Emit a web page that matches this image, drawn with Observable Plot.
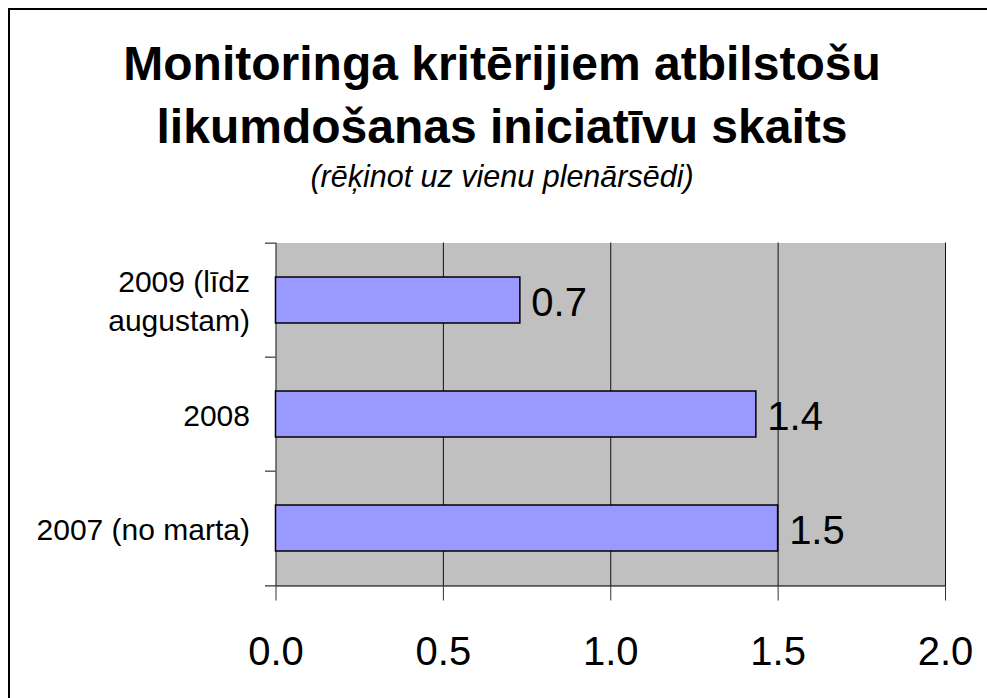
<!DOCTYPE html>
<html>
<head>
<meta charset="utf-8">
<script src="https://cdn.jsdelivr.net/npm/d3@7"></script>
<script src="https://cdn.jsdelivr.net/npm/@observablehq/plot@0.6"></script>
<style>
  html, body { margin: 0; padding: 0; background: #fff; }
  body { width: 987px; height: 698px; overflow: hidden; position: relative; font-family: "Liberation Sans", Arial, sans-serif; }
  #chart { position: absolute; left: 0; top: 0; }
  .t { position: absolute; left: 2px; width: 1000px; text-align: center; color: #000; white-space: nowrap; }
  .t1 { font-size: 48px; line-height: 48px; font-weight: bold; }
  .t2 { font-size: 30.5px; line-height: 30.5px; font-style: italic; }
  #border { position: absolute; left: 8px; top: 8px; width: 1200px; height: 1200px; border: 2px solid #000; pointer-events: none; }
</style>
</head>
<body>
<div id="chart"></div>
<div class="t t1" style="top:39.5px">Monitoringa kritērijiem atbilstošu</div>
<div class="t t1" style="top:102.7px">likumdošanas iniciatīvu skaits</div>
<div class="t t2" style="top:160.5px">(rēķinot uz vienu plenārsēdi)</div>
<div id="border"></div>
<script>
const categories = ["2009 (līdz\naugustam)", "2008", "2007 (no marta)"];
const values = [0.73, 1.435, 1.5];
const xTicks = [0, 0.5, 1.0, 1.5, 2.0];
const gridValues = [0.5, 1.0, 1.5, 2.0];

const data = categories.map((c, i) => ({cat: c, value: values[i]}));

const W = 987, H = 698;
const mL = 275.5, mR = 42, mT = 242.5, mB = 111.5;
const step = (H - mT - mB) / categories.length;
const pxPerUnit = (W - mL - mR) / (xTicks[xTicks.length - 1] - xTicks[0]);
const tickOut = 10.5 / pxPerUnit;
const fmt = d3.format(".1f");

const chart = Plot.plot({
  width: W,
  height: H,
  marginLeft: mL,
  marginRight: mR,
  marginTop: mT,
  marginBottom: mB,
  style: {fontFamily: "Liberation Sans, Arial, sans-serif", background: "transparent", color: "#000"},
  x: {domain: [0, 2]},
  y: {domain: categories, paddingInner: 0.594, paddingOuter: 0.297},
  marks: [
    Plot.frame({fill: "#c0c0c0", stroke: "none"}),
    Plot.ruleX(gridValues, {stroke: "#111", strokeWidth: 1}),
    Plot.ruleY(categories, {y: d => d, x1: -tickOut, x2: 0, dy: -step / 2, stroke: "#333", strokeWidth: 1.2}),
    Plot.ruleY([categories[categories.length - 1]], {y: d => d, x1: -tickOut, x2: 2, dy: step / 2, stroke: "#333", strokeWidth: 1.2}),
    Plot.ruleX([0], {stroke: "#333", strokeWidth: 1.2}),
    Plot.barX(data, {x: "value", y: "cat", fill: "#9999ff", stroke: "#000", strokeWidth: 1.5}),
    Plot.text(data, {x: "value", y: "cat", text: d => fmt(d.value), textAnchor: "start", dx: 11, dy: 3, fontSize: 40, fill: "#000"}),
    Plot.axisX({ticks: xTicks, tickFormat: fmt, tickSize: 14, tickPadding: 36, fontSize: 40, label: null, stroke: "#333"}),
    Plot.axisY({tickSize: 0, tickPadding: 26, fontSize: 30, lineHeight: 1.29, label: null, dy: -1.3})
  ]
});
document.getElementById("chart").appendChild(chart);
</script>
</body>
</html>
